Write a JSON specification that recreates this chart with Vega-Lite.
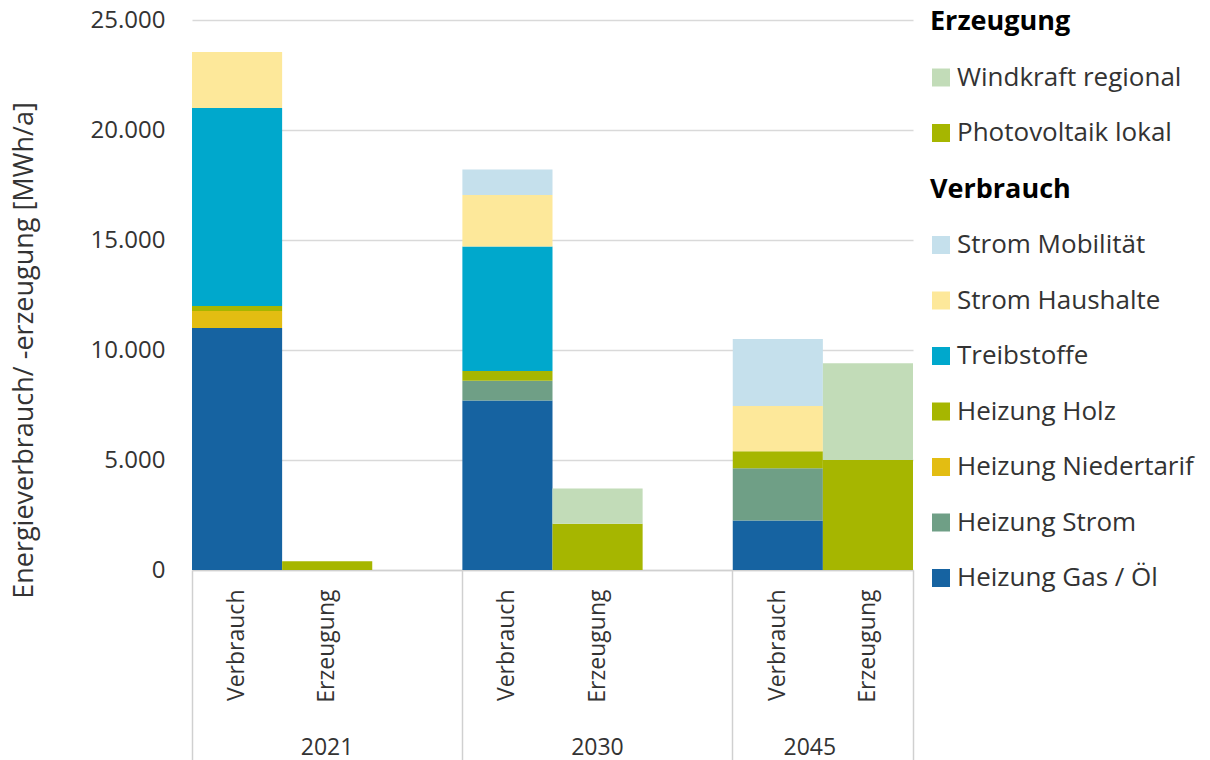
{
  "$schema": "https://vega.github.io/schema/vega-lite/v6.json",
  "autosize": "none",
  "padding": {"left": 192, "top": 20, "right": 297, "bottom": 190},
  "width": 721,
  "height": 550,
  "background": "white",
  "config": {
    "font": "Open Sans",
    "view": {"stroke": null},
    "axis": {"labelFont": "Open Sans", "titleFont": "Open Sans", "labelColor": "#333333", "titleColor": "#333333"},
    "legend": {"labelFont": "Open Sans"}
  },
  "data": {
    "values": [
      {"slot": "2021V", "jahr": "2021", "art": "Verbrauch", "kat": "Heizung Gas / Öl", "wert": 11000, "rank": 1},
      {"slot": "2021V", "jahr": "2021", "art": "Verbrauch", "kat": "Heizung Niedertarif", "wert": 770, "rank": 3},
      {"slot": "2021V", "jahr": "2021", "art": "Verbrauch", "kat": "Heizung Holz", "wert": 230, "rank": 4},
      {"slot": "2021V", "jahr": "2021", "art": "Verbrauch", "kat": "Treibstoffe", "wert": 9000, "rank": 5},
      {"slot": "2021V", "jahr": "2021", "art": "Verbrauch", "kat": "Strom Haushalte", "wert": 2550, "rank": 6},
      {"slot": "2021E", "jahr": "2021", "art": "Erzeugung", "kat": "Photovoltaik lokal", "wert": 400, "rank": 8},
      {"slot": "2030V", "jahr": "2030", "art": "Verbrauch", "kat": "Heizung Gas / Öl", "wert": 7700, "rank": 1},
      {"slot": "2030V", "jahr": "2030", "art": "Verbrauch", "kat": "Heizung Strom", "wert": 900, "rank": 2},
      {"slot": "2030V", "jahr": "2030", "art": "Verbrauch", "kat": "Heizung Holz", "wert": 450, "rank": 4},
      {"slot": "2030V", "jahr": "2030", "art": "Verbrauch", "kat": "Treibstoffe", "wert": 5650, "rank": 5},
      {"slot": "2030V", "jahr": "2030", "art": "Verbrauch", "kat": "Strom Haushalte", "wert": 2350, "rank": 6},
      {"slot": "2030V", "jahr": "2030", "art": "Verbrauch", "kat": "Strom Mobilität", "wert": 1150, "rank": 7},
      {"slot": "2030E", "jahr": "2030", "art": "Erzeugung", "kat": "Photovoltaik lokal", "wert": 2100, "rank": 8},
      {"slot": "2030E", "jahr": "2030", "art": "Erzeugung", "kat": "Windkraft regional", "wert": 1600, "rank": 9},
      {"slot": "2045V", "jahr": "2045", "art": "Verbrauch", "kat": "Heizung Gas / Öl", "wert": 2250, "rank": 1},
      {"slot": "2045V", "jahr": "2045", "art": "Verbrauch", "kat": "Heizung Strom", "wert": 2380, "rank": 2},
      {"slot": "2045V", "jahr": "2045", "art": "Verbrauch", "kat": "Heizung Holz", "wert": 770, "rank": 4},
      {"slot": "2045V", "jahr": "2045", "art": "Verbrauch", "kat": "Strom Haushalte", "wert": 2050, "rank": 6},
      {"slot": "2045V", "jahr": "2045", "art": "Verbrauch", "kat": "Strom Mobilität", "wert": 3050, "rank": 7},
      {"slot": "2045E", "jahr": "2045", "art": "Erzeugung", "kat": "Photovoltaik lokal", "wert": 5000, "rank": 8},
      {"slot": "2045E", "jahr": "2045", "art": "Erzeugung", "kat": "Windkraft regional", "wert": 4400, "rank": 9}
    ]
  },
  "layer": [
    {
      "mark": {"type": "bar"},
      "encoding": {
        "x": {
          "field": "slot",
          "type": "nominal",
          "sort": null,
          "scale": {
            "domain": ["2021V", "2021E", "2021G", "2030V", "2030E", "2030G", "2045V", "2045E"],
            "paddingInner": 0,
            "paddingOuter": 0
          },
          "axis": {
            "orient": "bottom",
            "title": null,
            "grid": false,
            "ticks": false,
            "domain": true,
            "domainColor": "#d0d0d0",
            "domainWidth": 1.5,
            "labelExpr": "indexof(datum.value, 'V') > 0 ? 'Verbrauch' : (indexof(datum.value, 'E') > 0 ? 'Erzeugung' : '')",
            "labelAngle": -90,
            "labelAlign": "right",
            "labelBaseline": "middle",
            "labelPadding": 19,
            "labelFontSize": 23,
            "labelOverlap": false
          }
        },
        "y": {
          "field": "wert",
          "type": "quantitative",
          "stack": "zero",
          "scale": {"domain": [0, 25000], "nice": false},
          "axis": {
            "values": [0, 5000, 10000, 15000, 20000, 25000],
            "title": "Energieverbrauch/ -erzeugung [MWh/a]",
            "titleFontSize": 27,
            "titleFontWeight": "normal",
            "titleAngle": -90,
            "titleX": -168,
            "titleY": 330,
            "titleAlign": "center",
            "titleBaseline": "middle",
            "titleLimit": 700,
            "labelExpr": "replace(datum.label, ',', '.')",
            "labelFontSize": 24,
            "labelPadding": 27,
            "grid": true,
            "gridColor": "#d9d9d9",
            "gridWidth": 1.5,
            "domain": false,
            "ticks": false
          }
        },
        "color": {
          "field": "kat",
          "type": "nominal",
          "scale": {
            "domain": ["Erzeugung", "Windkraft regional", "Photovoltaik lokal", "Verbrauch", "Strom Mobilität", "Strom Haushalte", "Treibstoffe", "Heizung Holz", "Heizung Niedertarif", "Heizung Strom", "Heizung Gas / Öl"],
            "range": ["transparent", "#c2dcb8", "#a6b600", "transparent", "#c5e0ec", "#fde89a", "#00a8cc", "#a6b600", "#e3bd12", "#6f9f86", "#1663a1"]
          },
          "legend": {
            "title": null,
            "orient": "none",
            "legendX": 736,
            "legendY": -11,
            "padding": 0,
            "symbolType": "square",
            "symbolSize": 324,
            "symbolStrokeWidth": 0,
            "labelFontSize": 26,
            "labelColor": "#333333",
            "labelOffset": 3,
            "labelLimit": 400,
            "rowPadding": 29.5,
            "encode": {
              "labels": {
                "update": {
                  "dx": {"signal": "(datum.label === 'Erzeugung' || datum.label === 'Verbrauch') ? -27 : 0"},
                  "fontWeight": {"signal": "(datum.label === 'Erzeugung' || datum.label === 'Verbrauch') ? 'bold' : 'normal'"},
                  "fontSize": {"signal": "(datum.label === 'Erzeugung' || datum.label === 'Verbrauch') ? 27 : 26"},
                  "fill": {"signal": "(datum.label === 'Erzeugung' || datum.label === 'Verbrauch') ? '#000000' : '#333333'"}
                }
              }
            }
          }
        },
        "order": {"field": "rank", "type": "quantitative"}
      }
    },
    {
      "mark": {"type": "rule", "opacity": 0},
      "encoding": {
        "x": {
          "field": "slot",
          "type": "nominal",
          "sort": null,
          "axis": {
            "orient": "bottom",
            "title": null,
            "grid": false,
            "domain": false,
            "bandPosition": 0,
            "ticks": true,
            "tickSize": 190,
            "tickWidth": 1.5,
            "tickColor": {"condition": {"test": "datum.value === '2021V' || datum.value === '2030V' || datum.value === '2045V'", "value": "#d0d0d0"}, "value": "transparent"},
            "labelExpr": "datum.value === '2021V' ? '2021' : (datum.value === '2030V' ? '2030' : (datum.value === '2045V' ? '2045' : ''))",
            "labelAngle": 0,
            "labelAlign": "center",
            "labelBaseline": "top",
            "labelPadding": -24,
            "labelOffset": {"condition": {"test": "datum.value === '2045V'", "value": 32}, "value": 90},
            "labelFontSize": 23,
            "labelOverlap": false
          }
        }
      }
    },
    {
      "mark": {"type": "rule", "opacity": 0},
      "encoding": {
        "x": {
          "field": "slot",
          "type": "nominal",
          "sort": null,
          "axis": {
            "orient": "bottom",
            "title": null,
            "grid": false,
            "domain": false,
            "labels": false,
            "bandPosition": 1,
            "ticks": true,
            "tickSize": 190,
            "tickWidth": 1.5,
            "tickColor": {"condition": {"test": "datum.value === '2045E'", "value": "#d0d0d0"}, "value": "transparent"}
          }
        }
      }
    }
  ],
  "resolve": {"axis": {"x": "independent"}}
}
